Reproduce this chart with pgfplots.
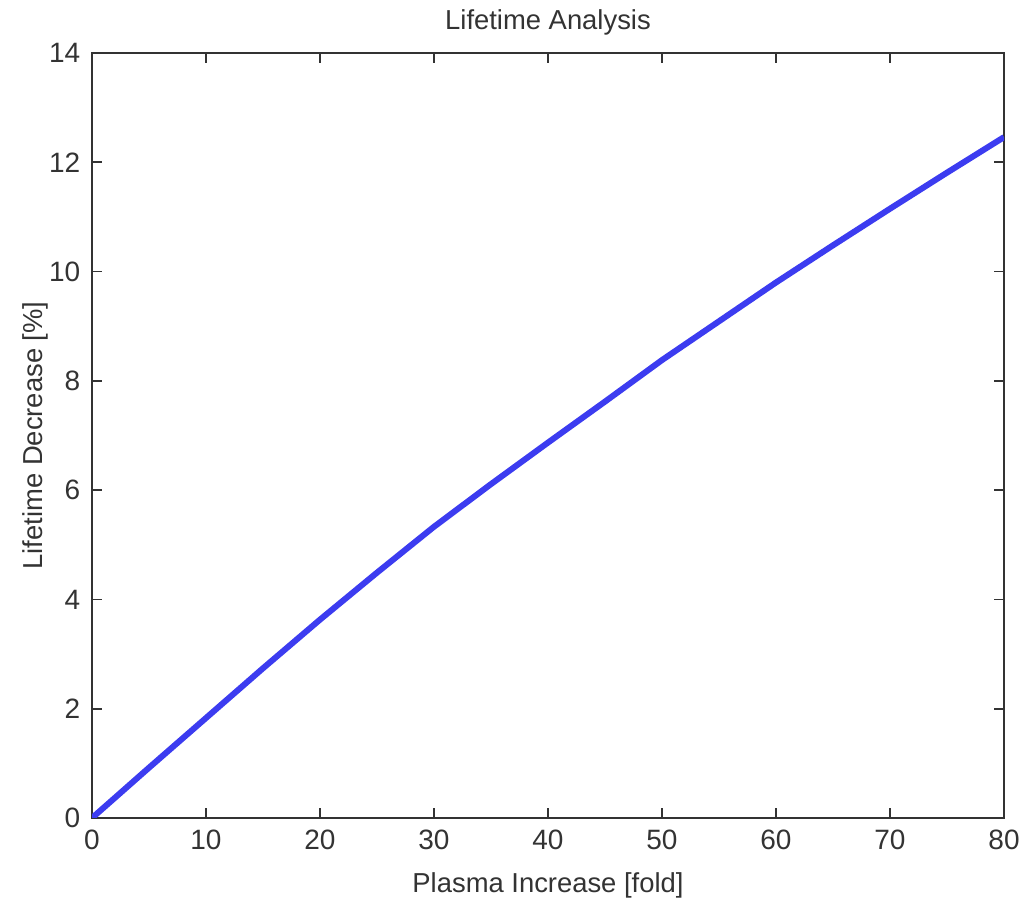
\documentclass[border=0pt]{standalone}
\usepackage{fontspec}
\setmainfont{Liberation Sans}
\usepackage{pgfplots}
\pgfplotsset{compat=1.18}
\begin{document}
\fontsize{14}{17}\selectfont
\begin{tikzpicture}
\begin{axis}[
  scale only axis,
  width=456pt, height=382.5pt,
  xmin=0, xmax=80, ymin=0, ymax=14,
  xtick={0,10,...,80}, ytick={0,2,...,14},
  tick align=inside,
  major tick length=5pt,
  axis line style={line width=0.8pt, black!80},
  every tick/.style={line width=0.8pt, black!80},
  /pgf/number format/assume math mode=true,
  tick label style={font=\fontsize{14}{17}\selectfont, text=black!80},
  label style={font=\fontsize{13.7}{16}\selectfont, text=black!80},
  title style={font=\fontsize{13.7}{16}\selectfont, text=black!80, yshift=-2pt},
  title={Lifetime Analysis},
  xlabel={Plasma Increase [fold]},
  ylabel={Lifetime Decrease [\%]},
  ylabel style={yshift=-9pt},
  xlabel style={yshift=-2pt},
  xticklabel style={yshift=-1pt},
  yticklabel style={xshift=-1pt},
]
\addplot[color={rgb,255:red,60;green,60;blue,240}, line width=3pt] coordinates {
(0,0) (5,0.92) (10,1.83) (15,2.74) (20,3.63) (25,4.49) (30,5.33) (35,6.11) (40,6.87) (45,7.62) (50,8.38) (55,9.09) (60,9.80) (65,10.48) (70,11.15) (75,11.81) (80,12.46)
};
\end{axis}
\pgfresetboundingbox
\path ([xshift=-46pt,yshift=-42pt]current axis.south west) rectangle ([xshift=8.5pt,yshift=26.5pt]current axis.north east);
\end{tikzpicture}
\end{document}
